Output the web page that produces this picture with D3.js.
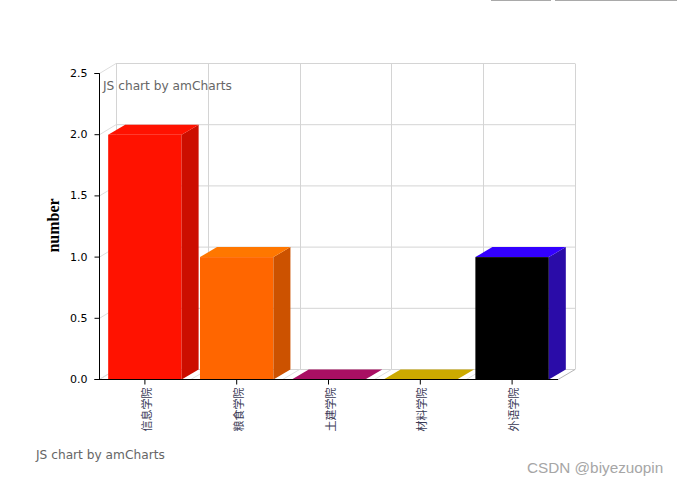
<!DOCTYPE html>
<html><head><meta charset="utf-8">
<script src="https://cdn.jsdelivr.net/npm/d3@7/dist/d3.min.js"></script>
<style>html,body{margin:0;padding:0;background:#fff;overflow:hidden}svg{display:block}</style>
</head><body><div id="c"></div>
<script>
const categories = ["信息学院","粮食学院","土建学院","材料学院","外语学院"];
const values = [2,1,0,0,1];
const yTicks = [0,0.5,1,1.5,2,2.5];
const frontColors = ["#FF1200","#FF6600","#A90F63","#CCAA00","#000000"];
const topColors = ["#FF1200","#FF7700","#A90F63","#CCAA00","#3300FF"];
const sideColors = ["#CC0E00","#CC5200","#870C4F","#A38800","#2A0CA8"];

const W=677,H=486, left=99, right=558, base=379.5, top0=73.5, dx=17, dy=10;
const svg=d3.select("#c").append("svg").attr("width",W).attr("height",H);
const x=d3.scaleBand().domain(categories).range([left,right]).paddingInner(0.2).paddingOuter(0.1);
const xb=d3.scaleBand().domain(categories).range([left,right]);
const y=d3.scaleLinear().domain([0,2.5]).range([base,top0]);
const poly=(g,pts,fill,stroke)=>g.append("polygon").attr("points",pts.map(p=>p.join(",")).join(" ")).attr("fill",fill).attr("stroke",stroke||"none");

// top-right page fragments
svg.append("rect").attr("x",491).attr("y",0).attr("width",60).attr("height",1).attr("fill","#a9a9a9");
svg.append("rect").attr("x",555).attr("y",0).attr("width",122).attr("height",1).attr("fill","#a9a9a9");

// back wall grid
const grid=svg.append("g").attr("fill","none").attr("stroke","#d4d4d4").attr("stroke-width",1);
yTicks.forEach(t=>{
  const p=y(t);
  grid.append("line").attr("x1",left+dx).attr("x2",right+dx).attr("y1",p-dy).attr("y2",p-dy);
  grid.append("line").attr("x1",left+.5).attr("x2",left+dx).attr("y1",p).attr("y2",p-dy).attr("stroke","#dedede");
});
const edges=categories.map(c=>xb(c)).concat([right]);
edges.forEach((e,i)=>{
  grid.append("line").attr("x1",Math.round(e+dx)+.5).attr("x2",Math.round(e+dx)+.5).attr("y1",top0-dy).attr("y2",base-dy);
  grid.append("line").attr("x1",e).attr("x2",e+dx).attr("y1",base).attr("y2",base-dy).attr("stroke",i===edges.length-1?"#b5b5b5":"#dedede");
});

// bars
const bars=svg.append("g");
categories.forEach((c,i)=>{
  const x0=x(c), x1=x0+x.bandwidth(), yt=y(values[i]), g=bars.append("g");
  if(values[i]>0){
    g.append("rect").attr("x",x0).attr("y",yt).attr("width",x1-x0).attr("height",base-yt).attr("fill",frontColors[i]);
    poly(g,[[x1,yt],[x1+dx,yt-dy],[x1+dx,base-dy],[x1,base]],sideColors[i]);
  }
  poly(g,[[x0,yt],[x0+dx,yt-dy],[x1+dx,yt-dy],[x1,yt]],topColors[i]);
});

// axes
const yAxis=d3.axisLeft(y).tickValues(yTicks).tickFormat(d3.format(".1f")).tickSize(5).tickPadding(7).offset(0);
const ga=svg.append("g").attr("transform",`translate(${left+.5},0)`).call(yAxis);
ga.selectAll("text").attr("font-family","DejaVu Sans, Verdana").attr("font-size",11).attr("fill","#000");
ga.selectAll("line,path").attr("stroke","#000");
const xAxis=d3.axisBottom(xb).tickSize(5).tickSizeOuter(0).offset(0);
const gx=svg.append("g").attr("transform",`translate(0,${base})`).call(xAxis);
gx.selectAll("line,path").attr("stroke","#000");
gx.selectAll("text").remove();
categories.forEach((c,i)=>{
  const cx=xb(c)+xb.bandwidth()/2;
  svg.append("text").text(c).attr("transform",`translate(${cx+6},${base+52}) rotate(-90)`)
    .attr("font-family","'Noto Sans CJK SC'").attr("font-size",11).attr("fill","#3a3a55");
});

svg.append("text").text("number").attr("transform","translate(59,225.5) rotate(-90)").attr("text-anchor","middle")
  .attr("font-family","Liberation Serif").attr("font-weight","bold").attr("font-size",16).attr("fill","#000");

const credit=(t,a,b)=>svg.append("text").text(t).attr("x",a).attr("y",b).attr("font-family","DejaVu Sans, Verdana").attr("font-size",12.2).attr("fill","#666");
credit("JS chart by amCharts",103,90);
credit("JS chart by amCharts",36,459);
svg.append("text").text("CSDN @biyezuopin").attr("x",527).attr("y",473).attr("font-family","Liberation Sans").attr("font-size",15.3).attr("fill","#a6a6a6");
</script></body></html>
